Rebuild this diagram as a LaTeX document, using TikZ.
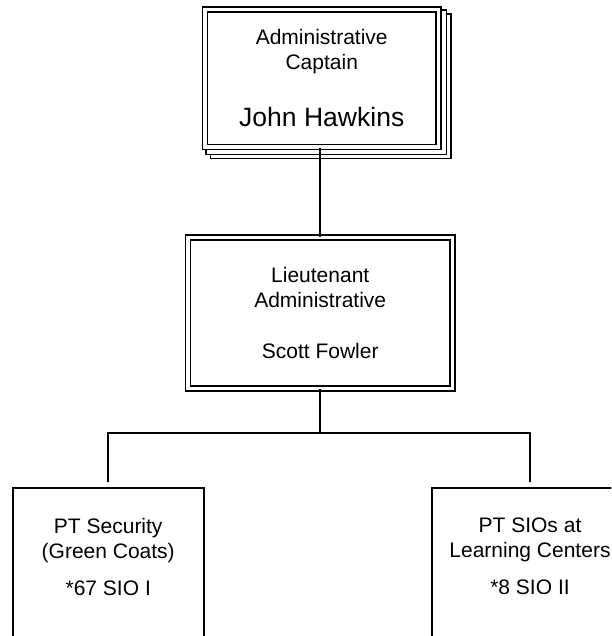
\documentclass[tikz,border=0pt]{standalone}
\usepackage{fontspec}
\setmainfont{Liberation Sans}
\usetikzlibrary{backgrounds}

\tikzset{
  orgtext/.style={font=\fontsize{15.75}{18.75}\selectfont, align=center, inner sep=0pt},
  dblbox/.style={orgtext, draw, fill=white, double=white, line width=1.3pt, double distance=2.4pt},
  plainbox/.style={orgtext, draw, fill=white, line width=1.5pt},
  stackbox/.style={draw, fill=white, line width=1.1pt},
  link/.style={line width=1.5pt}
}

\begin{document}
\begin{tikzpicture}[x=0.75pt,y=0.75pt,yscale=-1,xscale=1]
\useasboundingbox (0,0) rectangle (611,636);
\clip (0,0) rectangle (611,636);

%Shape: Captain box
\node[dblbox, minimum width=175.1pt, minimum height=103.1pt] (capt) at (321.75,78.25) {Administrative\\Captain\\[24pt]{\fontsize{19.9}{24}\selectfont John Hawkins}};
\begin{scope}[on background layer]
\draw[stackbox] ([shift={(6.5,5.5)}]capt.north west) rectangle ([shift={(11.5,10.5)}]capt.south east);
\draw[stackbox] ([shift={(2,1.5)}]capt.north west) rectangle ([shift={(7,6.5)}]capt.south east);
\end{scope}

%Shape: Lieutenant box
\node[dblbox, minimum width=198.4pt, minimum height=113.1pt] (lieut) at (320.25,312.9) {Lieutenant\\Administrative\\[19.5pt]Scott Fowler};

%Shape: bottom boxes
\node[plainbox, minimum width=143.6pt, minimum height=129.75pt, anchor=north] (sec) at (108.25,487) {PT Security\\(Green Coats)\\[9pt]*67 SIO I\\[8.25pt]\mbox{}};
\node[plainbox, minimum width=147pt, minimum height=129.75pt, anchor=north] (sio) at (530,487) {PT SIOs at\\Learning Centers\\[9pt]*8 SIO II\\[8.25pt]\mbox{}};

%Straight Lines
\coordinate (bus) at (320.25,433);
\draw[link] (capt.south -| lieut.north) -- (lieut.north);
\draw[link] (lieut.south) -- (bus);
\draw[link, shorten >=3.5pt] (bus) -| (sec.north);
\draw[link, shorten >=3.5pt] (bus) -| (sio.north);

\end{tikzpicture}
\end{document}
